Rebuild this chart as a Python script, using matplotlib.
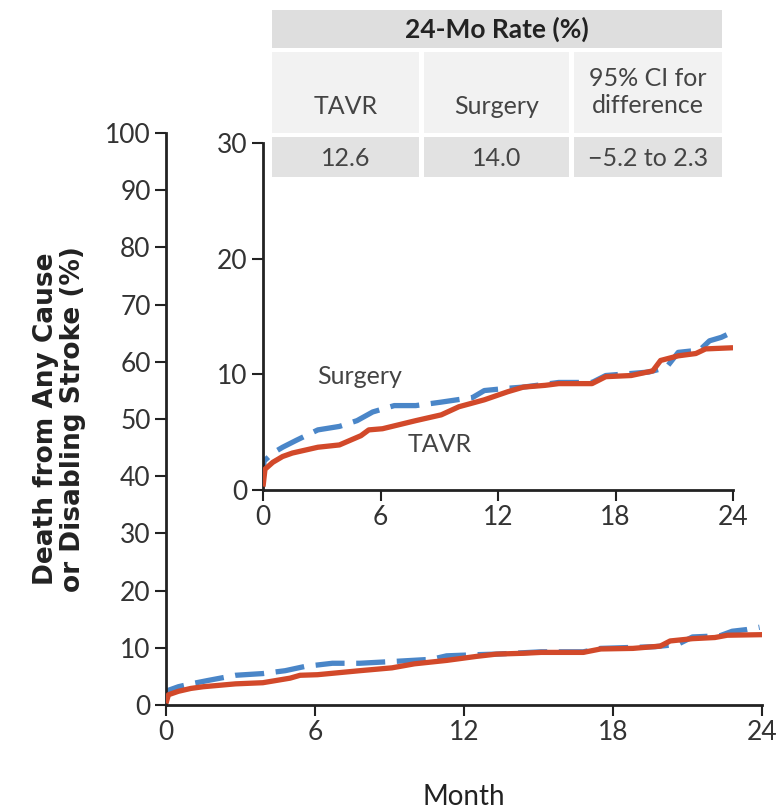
import matplotlib.pyplot as plt
from matplotlib.patches import Rectangle

# Kaplan-Meier style curves (month, percent)
tavr_month = [0, 0.1, 0.5, 1.0, 1.5, 2.8, 3.9, 5.0, 5.4, 6.1, 7.8, 9.1, 10.0, 11.3, 12.5,
              13.3, 14.4, 15.1, 16.8, 17.5, 18.8, 19.9, 20.3, 21.2, 22.1, 22.6, 24.0]
tavr_rate = [0.3, 1.8, 2.4, 2.9, 3.2, 3.7, 3.9, 4.7, 5.2, 5.3, 6.0, 6.5, 7.2, 7.8, 8.5,
             8.9, 9.05, 9.2, 9.2, 9.8, 9.9, 10.3, 11.2, 11.6, 11.8, 12.2, 12.3]
surg_month = [0, 0.05, 0.5, 1.0, 1.7, 2.8, 3.9, 4.8, 5.6, 6.7, 7.8, 9.1, 10.7, 11.3, 12.5,
              13.3, 15.1, 16.8, 17.5, 19.7, 20.6, 21.2, 22.3, 22.8, 23.4, 23.9]
surg_rate = [0.5, 2.5, 3.2, 3.7, 4.3, 5.2, 5.5, 6.0, 6.75, 7.3, 7.3, 7.6, 8.0, 8.6, 8.8,
             8.9, 9.3, 9.3, 9.9, 10.2, 10.6, 11.9, 12.1, 12.9, 13.2, 13.6]

x_ticks = [0, 6, 12, 18, 24]
main_y_ticks = list(range(0, 101, 10))
inset_y_ticks = [0, 10, 20, 30]

table_title = "24-Mo Rate (%)"
table_headers = ["TAVR", "Surgery", "95% CI for\ndifference"]
table_values = ["12.6", "14.0", "\u22125.2 to 2.3"]

red = "#d2492a"
blue = "#4a86c8"
dark = "#222222"
tick_font = ['Lato', 'DejaVu Sans']

fig = plt.figure(figsize=(7.84, 8.1), dpi=100)


def style_axes(ax, ymax, yticks):
    ax.set_xlim(0, 24)
    ax.set_ylim(0, ymax)
    ax.set_xticks(x_ticks)
    ax.set_yticks(yticks)
    for s in ["top", "right"]:
        ax.spines[s].set_visible(False)
    for s in ["left", "bottom"]:
        ax.spines[s].set_linewidth(2)
        ax.spines[s].set_color(dark)
    ax.tick_params(axis="both", direction="out", length=8, width=1.5, color=dark,
                   labelsize=19, labelcolor="#333333", pad=3)
    for lab in ax.get_xticklabels() + ax.get_yticklabels():
        lab.set_family(tick_font)
    ax.set_facecolor("none")


ax = fig.add_axes([0.2117, 0.1296, 0.7603, 0.7062])
ax.plot(tavr_month, tavr_rate, color=red, lw=3.8, solid_capstyle="butt", zorder=3)
ax.plot(surg_month, surg_rate, color=blue, lw=3.8, dashes=(5.5, 2.2), zorder=2)
style_axes(ax, 100, main_y_ticks)
ax.set_xlabel("Month", fontsize=20, family=tick_font, color="#222222", labelpad=28)
ax.set_ylabel("Death from Any Cause\nor Disabling Stroke (%)", fontsize=19, fontweight="bold",
              color="#222222", linespacing=1.02)
ax.yaxis.set_label_coords(-0.135, 0.5)

ins = fig.add_axes([0.3355, 0.395, 0.5995, 0.4285])
ins.plot(tavr_month, tavr_rate, color=red, lw=3.8, solid_capstyle="butt", zorder=3)
ins.plot(surg_month, surg_rate, color=blue, lw=3.8, dashes=(5.5, 2.2), zorder=2)
style_axes(ins, 30, inset_y_ticks)
ins.text(4.95, 9.8, "Surgery", fontsize=18, family=tick_font, color="#444444",
         ha="center", va="center")
ins.text(9.0, 3.9, "TAVR", fontsize=18, family=tick_font, color="#444444",
         ha="center", va="center")

# table in pixel coordinates of the figure
tab = fig.add_axes([0, 0, 1, 1])
tab.set_xlim(0, 784)
tab.set_ylim(810, 0)
tab.axis("off")
col_edges = [(272, 419), (424, 569), (574, 722)]
tab.add_patch(Rectangle((272, 10), 450, 38, facecolor="#dedede", edgecolor="none"))
tab.text(497, 29, table_title, fontsize=19, family=tick_font, fontweight="bold",
         ha="center", va="center", color="#222222")
for (x0, x1), head, val in zip(col_edges, table_headers, table_values):
    tab.add_patch(Rectangle((x0, 52), x1 - x0, 81, facecolor="#f2f2f2", edgecolor="none"))
    tab.add_patch(Rectangle((x0, 137), x1 - x0, 40, facecolor="#e2e2e2", edgecolor="none"))
    xc = (x0 + x1) / 2
    if "\n" in head:
        tab.text(xc, 92, head, fontsize=18, family=tick_font, ha="center", va="center",
                 color="#444444", linespacing=1.2)
    else:
        tab.text(xc, 106, head, fontsize=18, family=tick_font, ha="center", va="center",
                 color="#444444")
    tab.text(xc, 158, val, fontsize=18, family=tick_font, ha="center", va="center",
             color="#444444")

fig.savefig("out.png", dpi=100)
